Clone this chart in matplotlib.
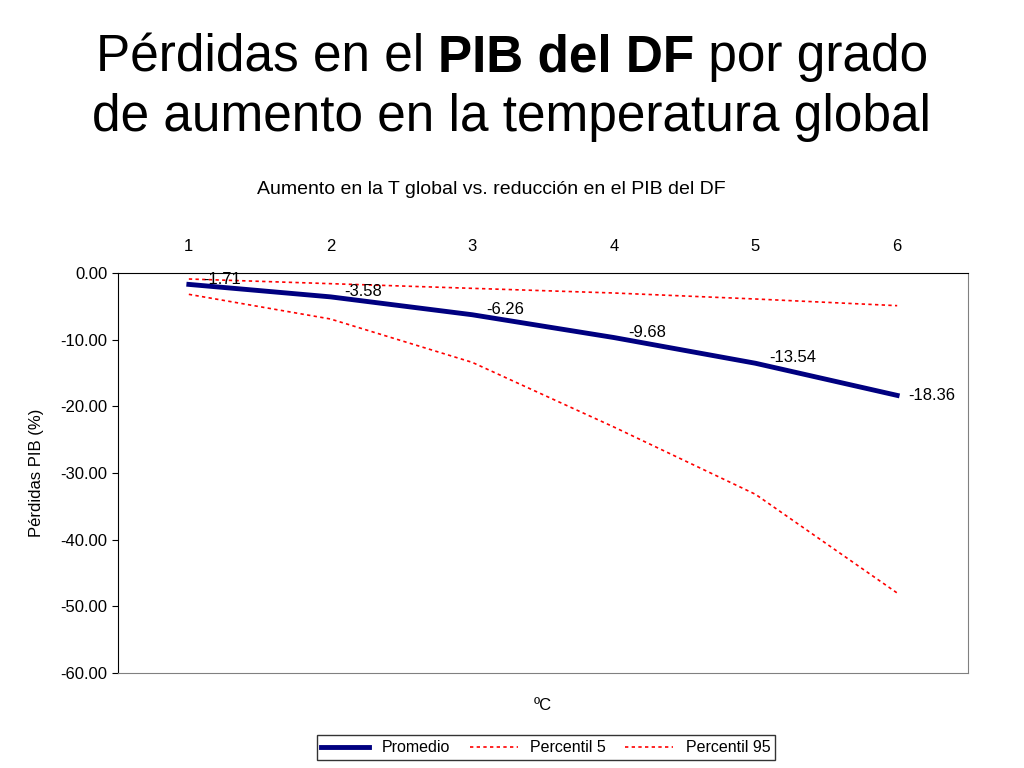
import matplotlib
matplotlib.use("Agg")
import matplotlib.pyplot as plt

plt.rcParams['font.family'] = 'Liberation Sans'

categories = [1, 2, 3, 4, 5, 6]
promedio = [-1.71, -3.58, -6.26, -9.68, -13.54, -18.36]
percentil5 = [-3.2, -6.9, -13.4, -23.1, -33.2, -48.0]
percentil95 = [-0.9, -1.6, -2.3, -3.0, -3.9, -4.9]
yticks = [0, -10, -20, -30, -40, -50, -60]

fig = plt.figure(figsize=(10.24, 7.68), dpi=100)
ax = fig.add_axes([118/1024, 95/768, 850/1024, 400/768])
x = list(range(len(categories)))
ax.plot(x, promedio, color='#000080', lw=3.5, label='Promedio')
ax.plot(x, percentil5, color='#FF0000', lw=1.2, ls=(0, (2, 2)), label='Percentil 5')
ax.plot(x, percentil95, color='#FF0000', lw=1.2, ls=(0, (2, 2)), label='Percentil 95')
for xi, v in zip(x, promedio):
    dx = 0.08 if xi == 5 else 0.1
    dy = 0.0 if xi == 5 else 0.8
    ax.text(xi + dx, v + dy, f"{v:.2f}", fontsize=12, ha='left', va='center')
ax.set_xlim(-0.5, 5.5)
ax.set_ylim(-60, 0)
ax.set_yticks(yticks)
ax.set_yticklabels([f"{t:.2f}" for t in yticks], fontsize=12)
ax.set_xticks(x)
ax.set_xticklabels([str(c) for c in categories], fontsize=12)
ax.xaxis.tick_top()
ax.tick_params(axis='x', length=0, pad=14)
ax.tick_params(axis='y', length=4, direction='out')
ax.set_ylabel('Pérdidas PIB (%)', fontsize=12, labelpad=12)
ax.set_xlabel('ºC', fontsize=12, labelpad=18)
for s in ax.spines.values():
    s.set_color('#808080')
ax.spines['left'].set_color('black')
ax.spines['top'].set_color('black')
fig.text(491/1024, 1 - 190/768, 'Aumento en la T global vs. reducción en el PIB del DF',
         fontsize=14, ha='center', va='center')
fig.legend(loc='lower center', bbox_to_anchor=(546/1024, 0.0), ncol=3, fontsize=11.5,
           frameon=True, edgecolor='black', fancybox=False, handlelength=3,
           borderpad=0.3, columnspacing=1.2)

# Title with bold segments
fig.canvas.draw()
r = fig.canvas.get_renderer()
def line(parts, y):
    ts = []
    for txt, w in parts:
        ts.append(fig.text(0, y, txt, fontsize=37, fontweight=w, va='center'))
    widths = [t.get_window_extent(r).width for t in ts]
    total = sum(widths)
    xpix = 512 - total / 2
    for t, w in zip(ts, widths):
        t.set_x(xpix / 1024)
        xpix += w
line([('Pérdidas en el ', 'normal'), ('PIB del DF', 'bold'), (' por grado', 'normal')], 1 - 58/768)
line([('de aumento en la temperatura global', 'normal')], 1 - 118/768)
fig.savefig('out.png', dpi=100)
